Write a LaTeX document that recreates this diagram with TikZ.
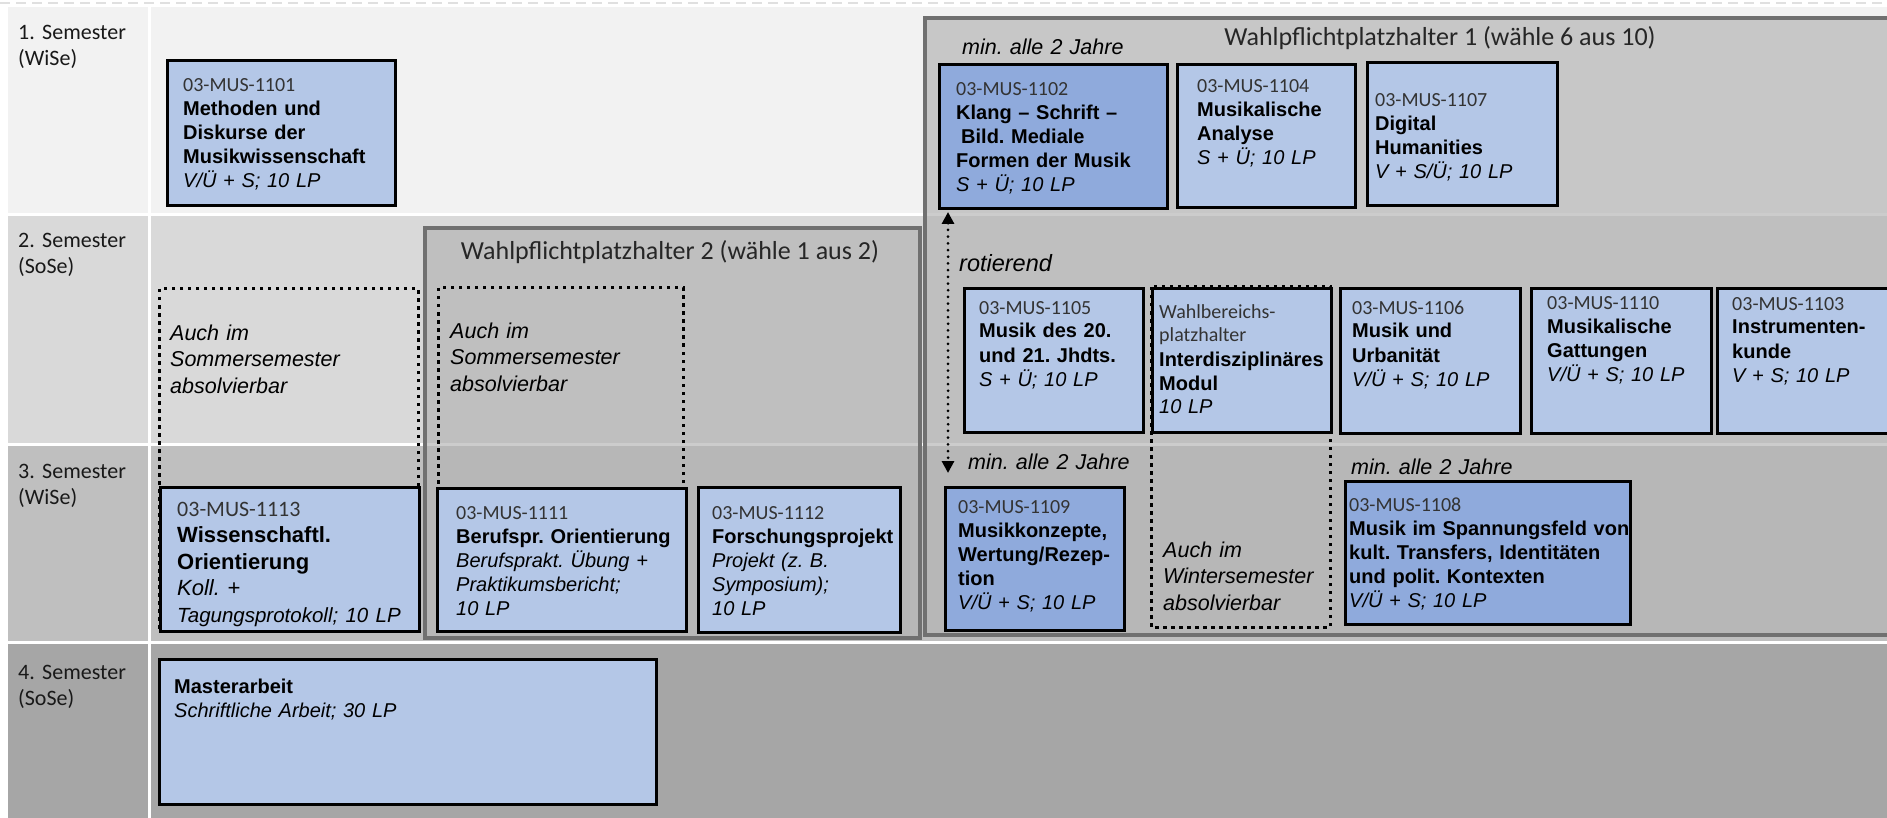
\documentclass[tikz,border=0pt]{standalone}
\usepackage{fontspec}
\setmainfont{Liberation Sans}
\newfontfamily\calibri{Carlito}
\usetikzlibrary{arrows.meta,calc}
\frenchspacing

\definecolor{modhell}{HTML}{B4C7E7}
\definecolor{moddunkel}{HTML}{8FAADC}
\definecolor{sem1}{HTML}{F2F2F2}
\definecolor{sem2}{HTML}{D9D9D9}
\definecolor{sem3}{HTML}{BFBFBF}
\definecolor{sem4}{HTML}{A6A6A6}
\definecolor{wpfill}{HTML}{B4B4B4}
\definecolor{wprand}{HTML}{707070}

\newcommand{\modcode}[1]{{\calibri\textcolor{black!80}{#1}}}

\tikzset{
  modul/.style={draw=black, line width=3pt, fill=modhell, anchor=north west, inner sep=0pt},
  moddark/.style={modul, fill=moddunkel},
  modtext/.style={anchor=base west, align=left, text width=300pt, inner sep=0pt, font=\fontsize{20}{24}\selectfont},
  note/.style={anchor=base west, align=left, text width=300pt, inner sep=0pt, font=\fontsize{21.5}{26.5}\selectfont\itshape},
  semlabel/.style={anchor=base west, align=left, text width=128pt, inner sep=0pt, text=black!90, font=\calibri\fontsize{22}{26}\selectfont},
  heading/.style={anchor=base, inner sep=0pt, text=black!85, font=\calibri\fontsize{26}{30}\selectfont},
  wpbox/.style={draw=wprand, line width=4pt, fill=wpfill, fill opacity=0.68},
  optional/.style={draw=black, line width=3pt, dash pattern=on 3.5pt off 4.5pt},
}

\begin{document}
\begin{tikzpicture}[x=1pt, y=-1pt]
  \useasboundingbox (0,0) rectangle (1887,818);
  \fill[white] (0,0) rectangle (1887,818);
  \draw[black!12, line width=1.5pt, dash pattern=on 10pt off 6pt] (0,3) -- (1887,3);

  % Semester rows
  \foreach \top/\bot/\col in {7/213/sem1, 216/443/sem2, 446/641/sem3, 644/818/sem4} {
    \fill[\col] (8,\top) rectangle (148,\bot);
    \fill[\col] (151,\top) rectangle (1887,\bot);
  }

  % Semester labels
  \node[semlabel] (s1) at (18,40) {1. Semester\\(WiSe)};
  \node[semlabel] (s2) at (18,248) {2. Semester\\(SoSe)};
  \node[semlabel] (s3) at (18,478) {3. Semester\\(WiSe)};
  \node[semlabel] (s4) at (18,679) {4. Semester\\(SoSe)};

  % Wahlpflicht containers
  \draw[wpbox] (925,18) rectangle (1900,635);
  \draw[wpbox] (425,228) rectangle (920,638);
  \node[heading] (wp1) at (1440,46) {Wahlpflichtplatzhalter 1 (wähle 6 aus 10)};
  \node[heading] (wp2) at (670,260) {Wahlpflichtplatzhalter 2 (wähle 1 aus 2)};

  % Dotted frames
  \draw[optional] (159,289) rectangle (418,630);
  \draw[optional] (438,288) rectangle (683,627);
  \draw[optional] (1151,287) rectangle (1330,627);

  % Notes
  \node[note] (n1) at (170,340) {Auch im\\Sommersemester\\absolvierbar};
  \node[note] (n2) at (450,338) {Auch im\\Sommersemester\\absolvierbar};
  \node[note] (n3) at (1163,557) {Auch im\\Wintersemester\\absolvierbar};
  \node[note] (j1) at (962,55) {min. alle 2 Jahre};
  \node[note] (j2) at (968,469) {min. alle 2 Jahre};
  \node[note] (j3) at (1351,474) {min. alle 2 Jahre};
  \node[note, font=\fontsize{23.5}{28}\selectfont\itshape] (rot) at (959,272) {rotierend};

  % 1. Semester
  \node[modul, minimum width=228, minimum height=145] (m1101) at (166,59) {};
  \node[modtext] (t1101) at ([shift={(17,33)}]m1101.north west)
    {\modcode{03-MUS-1101}\\\textbf{Methoden und}\\\textbf{Diskurse der}\\\textbf{Musikwissenschaft}\\\textit{V/Ü + S; 10 LP}};

  \node[moddark, minimum width=228, minimum height=144] (m1102) at (938,63) {};
  \node[modtext] (t1102) at ([shift={(18,33)}]m1102.north west)
    {\modcode{03-MUS-1102}\\\textbf{Klang – Schrift –}\\\hspace*{5pt}\textbf{Bild. Mediale}\\\textbf{Formen der Musik}\\\textit{S + Ü; 10 LP}};

  \node[modul, minimum width=178, minimum height=143] (m1104) at (1176,63) {};
  \node[modtext] (t1104) at ([shift={(21,30)}]m1104.north west)
    {\modcode{03-MUS-1104}\\\textbf{Musikalische}\\\textbf{Analyse}\\\textit{S + Ü; 10 LP}};

  \node[modul, minimum width=190, minimum height=143] (m1107) at (1366,61) {};
  \node[modtext] (t1107) at ([shift={(9,46)}]m1107.north west)
    {\modcode{03-MUS-1107}\\\textbf{Digital}\\\textbf{Humanities}\\\textit{V + S/Ü; 10 LP}};

  % 2. Semester
  \node[modul, minimum width=179, minimum height=144] (m1105) at (963,287) {};
  \node[modtext] (t1105) at ([shift={(16,27)}]m1105.north west)
    {\modcode{03-MUS-1105}\\\textbf{Musik des 20.}\\\textbf{und 21. Jhdts.}\\\textit{S + Ü; 10 LP}};

  \node[modul, minimum width=179, minimum height=144] (mwahl) at (1151,287) {};
  \node[modtext] (twahl) at ([shift={(8,31)}]mwahl.north west)
    {\modcode{Wahlbereichs-}\\\modcode{platzhalter}\\\textbf{Interdisziplinäres}\\\textbf{Modul}\\\textit{10 LP}};

  \node[modul, minimum width=180, minimum height=145] (m1106) at (1339,287) {};
  \node[modtext] (t1106) at ([shift={(13,27)}]m1106.north west)
    {\modcode{03-MUS-1106}\\\textbf{Musik und}\\\textbf{Urbanität}\\\textit{V/Ü + S; 10 LP}};

  \node[modul, minimum width=180, minimum height=145] (m1110) at (1530,287) {};
  \node[modtext] (t1110) at ([shift={(17,22)}]m1110.north west)
    {\modcode{03-MUS-1110}\\\textbf{Musikalische}\\\textbf{Gattungen}\\\textit{V/Ü + S; 10 LP}};

  \node[modul, minimum width=184, minimum height=145] (m1103) at (1716,287) {};
  \node[modtext] (t1103) at ([shift={(16,23)}]m1103.north west)
    {\modcode{03-MUS-1103}\\\textbf{Instrumenten-}\\\textbf{kunde}\\\textit{V + S; 10 LP}};

  % 3. Semester
  \node[modul, minimum width=259, minimum height=144] (m1113) at (159,486) {};
  \node[modtext, font=\fontsize{22}{26.5}\selectfont] (t1113) at ([shift={(18,30)}]m1113.north west)
    {\modcode{03-MUS-1113}\\\textbf{Wissenschaftl.}\\\textbf{Orientierung}\\\textit{Koll. +}\\{\fontsize{20.5}{26.5}\selectfont\itshape Tagungsprotokoll; 10 LP}};

  \node[modul, minimum width=249, minimum height=143] (m1111) at (436,487) {};
  \node[modtext] (t1111) at ([shift={(20,32)}]m1111.north west)
    {\modcode{03-MUS-1111}\\\textbf{Berufspr. Orientierung}\\\textit{Berufsprakt. Übung +}\\\textit{Praktikumsbericht;}\\\textit{10 LP}};

  \node[modul, minimum width=202, minimum height=145] (m1112) at (697,486) {};
  \node[modtext] (t1112) at ([shift={(15,33)}]m1112.north west)
    {\modcode{03-MUS-1112}\\\textbf{Forschungsprojekt}\\\textit{Projekt (z. B.}\\\textit{Symposium);}\\\textit{10 LP}};

  \node[moddark, minimum width=179, minimum height=143] (m1109) at (944,486) {};
  \node[modtext] (t1109) at ([shift={(14,27)}]m1109.north west)
    {\modcode{03-MUS-1109}\\\textbf{Musikkonzepte,}\\\textbf{Wertung/Rezep-}\\\textbf{tion}\\\textit{V/Ü + S; 10 LP}};

  \node[moddark, minimum width=285, minimum height=143] (m1108) at (1344,480) {};
  \node[modtext] (t1108) at ([shift={(5,31)}]m1108.north west)
    {\modcode{03-MUS-1108}\\\textbf{Musik im Spannungsfeld von}\\\textbf{kult. Transfers, Identitäten}\\\textbf{und polit. Kontexten}\\\textit{V/Ü + S; 10 LP}};

  % 4. Semester
  \node[modul, minimum width=497, minimum height=145] (mma) at (158,658) {};
  \node[modtext] (tma) at ([shift={(16,35)}]mma.north west)
    {\textbf{Masterarbeit}\\\textit{Schriftliche Arbeit; 30 LP}};

  % Rotation arrow
  \coordinate (rotoben) at ([shift={(10,2)}]m1102.south west);
  \coordinate (rotunten) at ([shift={(4,-13)}]m1109.north west);
  \draw[line width=3pt, line cap=round, dash pattern=on 0pt off 6.7pt,
    {Triangle[width=12pt,length=12pt]}-{Triangle[width=12pt,length=12pt]}] (rotoben) -- (rotunten);
\end{tikzpicture}
\end{document}
